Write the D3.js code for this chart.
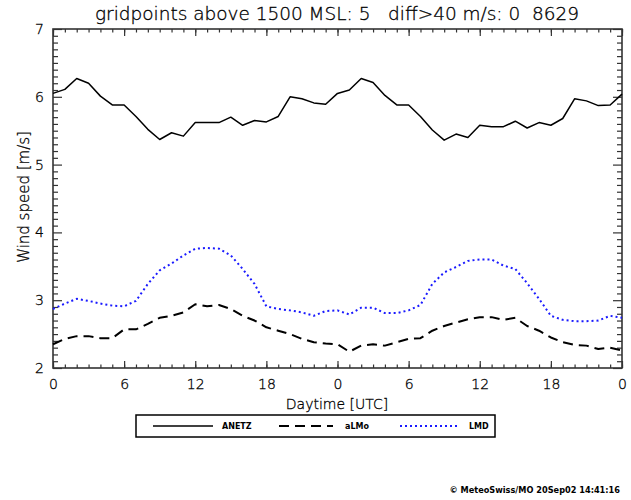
<!DOCTYPE html>
<html>
<head>
<meta charset="utf-8">
<script src="https://cdn.jsdelivr.net/npm/d3@7"></script>
<style>
  body { margin: 0; background: #fff; }
  svg text { font-family: "DejaVu Sans", sans-serif; white-space: pre; }
</style>
</head>
<body>
<svg id="chart"></svg>
<script>
// ── Data (hourly, two days) ────────────────────────────────────────────────
const hours = [0,1,2,3,4,5,6,7,8,9,10,11,12,13,14,15,16,17,18,19,20,21,22,23,24,
               25,26,27,28,29,30,31,32,33,34,35,36,37,38,39,40,41,42,43,44,45,46,47,48];

const anetz = [6.05,6.11,6.27,6.20,6.01,5.88,5.88,5.71,5.52,5.37,5.47,5.42,5.62,5.62,5.62,5.70,5.58,5.65,5.63,5.71,6.00,5.97,5.91,5.89,6.05,
               6.10,6.27,6.21,6.02,5.88,5.88,5.71,5.51,5.36,5.45,5.40,5.58,5.56,5.56,5.64,5.54,5.62,5.58,5.68,5.97,5.94,5.87,5.88,6.04];

const almo  = [2.35,2.43,2.47,2.47,2.44,2.44,2.57,2.57,2.65,2.74,2.77,2.82,2.94,2.91,2.93,2.87,2.77,2.70,2.60,2.55,2.50,2.43,2.38,2.36,2.35,
               2.24,2.33,2.35,2.33,2.38,2.43,2.44,2.55,2.62,2.67,2.72,2.75,2.75,2.71,2.74,2.62,2.55,2.45,2.38,2.34,2.33,2.28,2.30,2.26];

const lmd   = [2.87,2.95,3.02,2.99,2.95,2.92,2.91,2.99,3.24,3.44,3.54,3.66,3.76,3.77,3.76,3.66,3.46,3.24,2.91,2.87,2.85,2.82,2.77,2.84,2.85,
               2.79,2.89,2.89,2.81,2.81,2.85,2.93,3.24,3.41,3.49,3.58,3.60,3.60,3.51,3.46,3.25,3.02,2.77,2.71,2.69,2.69,2.70,2.77,2.74];

const xTickHours  = [0,6,12,18,24,30,36,42,48];
const xTickLabels = ["0","6","12","18","0","6","12","18","0"];
const yTicks      = [2,3,4,5,6,7];
const yMinor      = [2.1,2.2,2.3,2.4,2.5,2.6,2.7,2.8,2.9,3.1,3.2,3.3,3.4,3.5,3.6,3.7,3.8,3.9,
                     4.1,4.2,4.3,4.4,4.5,4.6,4.7,4.8,4.9,5.1,5.2,5.3,5.4,5.5,5.6,5.7,5.8,5.9,
                     6.1,6.2,6.3,6.4,6.5,6.6,6.7,6.8,6.9];

const titleText  = "gridpoints above 1500 MSL: 5   diff>40 m/s: 0  8629";
const footerText = "\u00A9 MeteoSwiss/MO 20Sep02 14:41:16";

const series = [
    { name: "ANETZ", values: anetz, color: "#000",    width: 1.5, dash: null   },
    { name: "aLMo",  values: almo,  color: "#000",    width: 2,   dash: "10,6" },
    { name: "LMD",   values: lmd,   color: "#1a1aff", width: 2,   dash: "2,3"  }
];

// ── Layout ────────────────────────────────────────────────────────────────
const W = 631, H = 500;
const margin = { top: 29, right: 9, bottom: 132, left: 53 };
const w = W - margin.left - margin.right;
const h = H - margin.top  - margin.bottom;

const root = d3.select("#chart").attr("width", W).attr("height", H);
const svg = root.append("g")
    .attr("transform", `translate(${margin.left},${margin.top})`);

const x = d3.scaleLinear().domain([0, 48]).range([0, w]);
const y = d3.scaleLinear().domain([2, 7]).range([h, 0]);

// thin "vector font" look: extra-light face, darkened by a hairline stroke
const thin = sel => sel
    .attr("font-family", "DejaVu Sans, sans-serif")
    .attr("font-weight", 200)
    .attr("fill", "#000")
    .attr("stroke", "#000")
    .attr("stroke-width", 0.3);

const axisColor = "#333";
const styleAxis = g => {
    g.select(".domain").remove();
    g.selectAll("line").attr("stroke", axisColor).attr("stroke-width", 1.2);
    g.selectAll("text").attr("font-size", 14).call(thin);
};

// ── Ticks (inward, all four sides) ──────────────────────────────────────────
svg.append("g").attr("transform", `translate(0,${h})`)
    .call(d3.axisBottom(x).tickValues(hours).tickSize(-3.5).tickFormat(""))
    .call(styleAxis);
svg.append("g")
    .call(d3.axisTop(x).tickValues(hours).tickSize(-3.5).tickFormat(""))
    .call(styleAxis);
svg.append("g").attr("transform", `translate(0,${h})`)
    .call(d3.axisBottom(x).tickValues(xTickHours).tickSize(-7).tickPadding(11)
        .tickFormat((d, i) => xTickLabels[i]))
    .call(styleAxis);
svg.append("g")
    .call(d3.axisTop(x).tickValues(xTickHours).tickSize(-7).tickFormat(""))
    .call(styleAxis);

svg.append("g")
    .call(d3.axisLeft(y).tickValues(yMinor).tickSize(-5).tickFormat(""))
    .call(styleAxis);
svg.append("g").attr("transform", `translate(${w},0)`)
    .call(d3.axisRight(y).tickValues(yMinor).tickSize(-5).tickFormat(""))
    .call(styleAxis);
svg.append("g")
    .call(d3.axisLeft(y).tickValues(yTicks).tickSize(-9).tickPadding(9).tickFormat(d3.format("d")))
    .call(styleAxis);
svg.append("g").attr("transform", `translate(${w},0)`)
    .call(d3.axisRight(y).tickValues(yTicks).tickSize(-9).tickFormat(""))
    .call(styleAxis);

// ── Frame ─────────────────────────────────────────────────────────────────
svg.append("rect")
    .attr("x", 0).attr("y", 0).attr("width", w).attr("height", h)
    .attr("fill", "none").attr("stroke", axisColor).attr("stroke-width", 1.6);

// ── Lines ─────────────────────────────────────────────────────────────────
const line = d3.line().x((d, i) => x(hours[i])).y(d => y(d));

series.forEach(s => {
    svg.append("path")
        .datum(s.values)
        .attr("fill", "none")
        .attr("stroke", s.color)
        .attr("stroke-width", s.width)
        .attr("stroke-dasharray", s.dash)
        .attr("stroke-linejoin", "round")
        .attr("d", line);
});

// ── Titles / axis labels ─────────────────────────────────────────────────
root.append("text")
    .attr("x", 337).attr("y", 20)
    .attr("text-anchor", "middle")
    .attr("font-size", 17)
    .attr("textLength", 484).attr("lengthAdjust", "spacingAndGlyphs")
    .call(thin)
    .text(titleText);

root.append("text")
    .attr("x", 337).attr("y", 409)
    .attr("text-anchor", "middle")
    .attr("font-size", 14)
    .call(thin)
    .text("Daytime [UTC]");

root.append("text")
    .attr("transform", "translate(29,197) rotate(-90)")
    .attr("text-anchor", "middle")
    .attr("font-size", 15)
    .call(thin)
    .text("Wind speed [m/s]");

// ── Legend ───────────────────────────────────────────────────────────────
const legend = root.append("g");
legend.append("rect")
    .attr("x", 136).attr("y", 415).attr("width", 359).attr("height", 22)
    .attr("fill", "none").attr("stroke", "#000").attr("stroke-width", 1.5);

const legendPos = [
    { x0: 153, x1: 213, tx: 222 },
    { x0: 279, x1: 333, tx: 345 },
    { x0: 400, x1: 459, tx: 469 }
];
series.forEach((s, i) => {
    const p = legendPos[i];
    legend.append("line")
        .attr("x1", p.x0).attr("x2", p.x1).attr("y1", 426).attr("y2", 426)
        .attr("stroke", s.color).attr("stroke-width", s.width)
        .attr("stroke-dasharray", s.dash);
    legend.append("text")
        .attr("x", p.tx).attr("y", 429)
        .attr("font-family", "Liberation Sans, Arial, sans-serif")
        .attr("font-weight", "bold").attr("font-size", 8)
        .text(s.name);
});

// ── Footer ───────────────────────────────────────────────────────────────
root.append("text")
    .attr("x", 620).attr("y", 493)
    .attr("text-anchor", "end")
    .attr("font-family", "Liberation Sans, Arial, sans-serif")
    .attr("font-weight", "bold").attr("font-size", 8.2)
    .text(footerText);
</script>
</body>
</html>
